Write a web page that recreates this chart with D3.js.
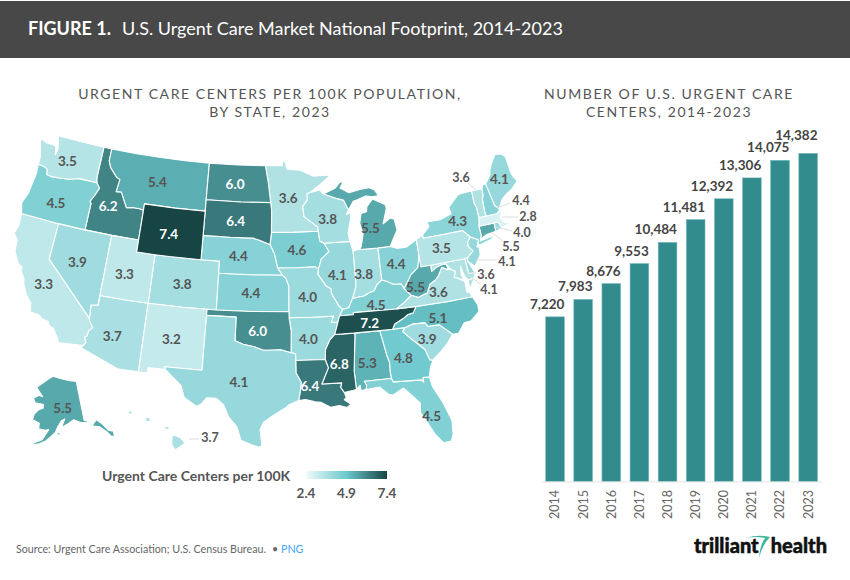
<!DOCTYPE html>
<html>
<head>
<meta charset="utf-8">
<script src="https://cdn.jsdelivr.net/npm/d3@7"></script>
<style>
  html, body { margin: 0; background: #fff; }
  text { font-family: Lato, sans-serif; }
</style>
</head>
<body>
<svg id="chart" width="850" height="580"></svg>
<script>
const years = [2014, 2015, 2016, 2017, 2018, 2019, 2020, 2021, 2022, 2023];
const centers = [7220, 7983, 8676, 9553, 10484, 11481, 12392, 13306, 14075, 14382];

const stateCodes = ['AK','AL','AR','AZ','CA','CO','CT','DE','FL','GA','HI','IA','ID','IL','IN','KS','KY','LA','MA','MD','ME','MI','MN','MO','MS','MT','NC','ND','NE','NH','NJ','NM','NV','NY','OH','OK','OR','PA','RI','SC','SD','TN','TX','UT','VA','VT','WA','WI','WV','WY'];
const stateValues = [5.5,5.3,4.0,3.7,3.3,3.8,5.5,4.1,4.5,4.8,3.7,4.6,6.2,4.1,3.8,4.4,4.5,6.4,2.8,3.6,4.1,5.5,3.6,4.0,6.8,5.4,5.1,6.0,4.4,4.4,4.1,3.2,3.9,4.3,4.4,6.0,4.5,3.5,4.0,3.9,6.4,7.2,4.1,3.3,3.6,3.6,3.5,3.8,5.5,7.4];
const legendTicks = [2.4, 4.9, 7.4];

// state outlines, lon/lat, simplified by hand
const stateRings = {
  WA: [[[-124.73,48.38],[-123.9,48.17],[-123.1,48.15],[-122.7,48.1],[-122.45,47.4],[-122.35,47.95],[-122.5,48.4],[-122.75,49],[-120,49],[-117.03,49],[-117.04,46.42],[-116.92,46],[-118.98,46],[-119.3,45.93],[-120.2,45.73],[-121.2,45.65],[-122.2,45.58],[-122.76,45.65],[-122.9,46.1],[-123.4,46.22],[-124.05,46.27],[-124.1,46.9],[-124.4,47.6]]],
  OR: [[[-124.05,46.27],[-123.4,46.22],[-122.9,46.1],[-122.76,45.65],[-122.2,45.58],[-121.2,45.65],[-120.2,45.73],[-119.3,45.93],[-118.98,46],[-116.92,46],[-116.47,45.6],[-116.85,44.9],[-117.2,44.4],[-117.03,44.2],[-117.03,42],[-120,42],[-124.21,42],[-124.55,42.84],[-124.15,43.8],[-124.05,44.7],[-123.95,45.5]]],
  CA: [[[-124.21,42],[-120,42],[-120,39],[-114.63,35],[-114.57,34.8],[-114.14,34.3],[-114.45,34],[-114.53,33.55],[-114.72,33.4],[-114.5,33],[-114.72,32.72],[-117.12,32.53],[-117.25,32.85],[-117.9,33.6],[-118.4,33.75],[-118.5,34.03],[-119.2,34.15],[-119.6,34.4],[-120.5,34.45],[-120.65,35.15],[-121.3,35.7],[-121.9,36.6],[-122,36.96],[-122.5,37.5],[-122.5,37.8],[-123,38],[-123.7,38.9],[-123.8,39.8],[-124.35,40.3],[-124.1,41]]],
  NV: [[[-120,42],[-117.03,42],[-114.04,42],[-114.04,36.2],[-114.74,36.1],[-114.63,35],[-120,39]]],
  ID: [[[-117.03,49],[-116.05,49],[-116.05,48],[-115.7,47.45],[-114.75,46.75],[-114.35,46.65],[-114.5,45.6],[-113.9,45.65],[-113.45,45.05],[-113,44.45],[-112.3,44.55],[-111.5,44.55],[-111.05,44.48],[-111.05,42],[-114.04,42],[-117.03,42],[-117.03,44.2],[-117.2,44.4],[-116.85,44.9],[-116.47,45.6],[-116.92,46],[-117.04,46.42]]],
  MT: [[[-116.05,49],[-113,49],[-110,49],[-107,49],[-104.05,49],[-104.05,45.94],[-104.05,45],[-107.5,45],[-111.05,45],[-111.05,44.48],[-111.5,44.55],[-112.3,44.55],[-113,44.45],[-113.45,45.05],[-113.9,45.65],[-114.5,45.6],[-114.35,46.65],[-114.75,46.75],[-115.7,47.45],[-116.05,48]]],
  WY: [[[-111.05,45],[-107.5,45],[-104.05,45],[-104.05,43],[-104.05,41],[-107.5,41],[-109.05,41],[-111.05,41],[-111.05,42],[-111.05,44.48]]],
  UT: [[[-114.04,42],[-111.05,42],[-111.05,41],[-109.05,41],[-109.05,37],[-111.5,37],[-114.04,37],[-114.04,36.2]]],
  CO: [[[-109.05,41],[-105.5,41],[-102.05,41],[-102.05,40],[-102.05,37],[-105.5,37],[-109.05,37]]],
  AZ: [[[-114.04,37],[-111.5,37],[-109.05,37],[-109.05,31.33],[-111.07,31.33],[-114.81,32.5],[-114.72,32.72],[-114.5,33],[-114.72,33.4],[-114.53,33.55],[-114.45,34],[-114.14,34.3],[-114.57,34.8],[-114.63,35],[-114.74,36.1],[-114.04,36.2]]],
  NM: [[[-109.05,37],[-105.5,37],[-103,37],[-103,36.5],[-103.04,32],[-106.62,32],[-106.53,31.78],[-108.2,31.78],[-108.2,31.33],[-109.05,31.33]]],
  TX: [[[-106.62,32],[-103.04,32],[-103,36.5],[-100,36.5],[-100,34.56],[-99.2,34.3],[-98.1,34.13],[-97.2,33.85],[-96.6,33.85],[-95.5,33.9],[-94.48,33.64],[-94.04,33.55],[-94.04,33],[-94.04,31.99],[-93.55,31.18],[-93.7,30.3],[-93.85,29.7],[-94.7,29.4],[-95.1,29.1],[-96.2,28.5],[-97.1,27.9],[-97.4,27.3],[-97.2,26],[-97.5,25.85],[-98.2,26.07],[-99.1,26.4],[-99.5,27.5],[-100.3,28.3],[-100.8,29.25],[-101.5,29.77],[-102.4,29.77],[-102.9,29.2],[-103.3,29],[-104.5,29.65],[-104.9,30.6],[-106.53,31.78]]],
  OK: [[[-103,37],[-102.05,37],[-98.5,37],[-94.62,37],[-94.62,36.5],[-94.43,35.4],[-94.48,33.64],[-95.5,33.9],[-96.6,33.85],[-97.2,33.85],[-98.1,34.13],[-99.2,34.3],[-100,34.56],[-100,36.5],[-103,36.5]]],
  KS: [[[-102.05,40],[-98.5,40],[-95.3,40],[-94.9,39.75],[-94.6,39.1],[-94.62,37],[-98.5,37],[-102.05,37]]],
  NE: [[[-104.05,43],[-101,43],[-98.5,43],[-97.85,42.85],[-96.6,42.5],[-96.1,41.7],[-95.9,41],[-95.77,40.58],[-95.3,40],[-98.5,40],[-102.05,40],[-102.05,41],[-104.05,41]]],
  SD: [[[-104.05,45.94],[-100,45.94],[-96.56,45.94],[-96.45,45.3],[-96.45,43.5],[-96.6,42.5],[-97.85,42.85],[-98.5,43],[-101,43],[-104.05,43],[-104.05,45]]],
  ND: [[[-104.05,49],[-100.5,49],[-97.23,49],[-96.85,47.6],[-96.56,45.94],[-100,45.94],[-104.05,45.94]]],
  MN: [[[-97.23,49],[-95.15,49],[-95.15,49.38],[-94.8,49.3],[-94.6,48.72],[-93,48.6],[-91.5,48.07],[-90,48.1],[-89.5,48],[-90.8,47.3],[-92,46.7],[-92.3,46.65],[-92.3,46.1],[-92.85,45.6],[-92.75,44.75],[-91.25,43.85],[-91.22,43.5],[-94,43.5],[-96.45,43.5],[-96.45,45.3],[-96.56,45.94],[-96.85,47.6]]],
  IA: [[[-96.45,43.5],[-94,43.5],[-91.22,43.5],[-91.1,42.7],[-90.65,42.5],[-90.15,41.8],[-91.05,41.2],[-91.4,40.4],[-91.73,40.6],[-93.7,40.58],[-95.77,40.58],[-95.9,41],[-96.1,41.7],[-96.6,42.5]]],
  MO: [[[-95.77,40.58],[-93.7,40.58],[-91.73,40.6],[-91.4,40.4],[-91.5,40],[-90.7,39],[-90.2,38.75],[-90.2,38.4],[-89.5,37.3],[-89.15,37],[-89.5,36.5],[-89.7,36],[-90.37,36],[-90.1,36.5],[-92.3,36.5],[-94.62,36.5],[-94.62,37],[-94.6,39.1],[-94.9,39.75],[-95.3,40]]],
  AR: [[[-94.62,36.5],[-92.3,36.5],[-90.1,36.5],[-90.37,36],[-89.7,36],[-90.1,35],[-90.6,34.6],[-91.1,33.8],[-91.17,33],[-94.04,33],[-94.04,33.55],[-94.48,33.64],[-94.43,35.4]]],
  LA: [[[-94.04,33],[-91.17,33],[-90.9,32.3],[-91.6,31],[-89.73,31],[-89.85,30.65],[-89.55,30.2],[-89.4,29.8],[-89.6,29.6],[-89,29.2],[-89.4,28.95],[-90.1,29.15],[-90.9,29.05],[-91.8,29.5],[-92.3,29.55],[-93.2,29.78],[-93.85,29.7],[-93.7,30.3],[-93.55,31.18],[-94.04,31.99]]],
  MS: [[[-90.1,35],[-88.2,35],[-88.1,34.9],[-88.47,31.9],[-88.4,30.37],[-89.55,30.2],[-89.85,30.65],[-89.73,31],[-91.6,31],[-90.9,32.3],[-91.17,33],[-91.1,33.8],[-90.6,34.6]]],
  AL: [[[-88.2,35],[-85.6,35],[-85.18,32.87],[-85,32.3],[-85.05,31.55],[-85,31],[-87.6,31],[-87.4,30.65],[-87.5,30.3],[-88,30.25],[-88,30.7],[-88.4,30.37],[-88.47,31.9],[-88.1,34.9]]],
  TN: [[[-89.5,36.5],[-88.07,36.5],[-88.07,36.67],[-83.68,36.6],[-81.68,36.59],[-82.05,36.1],[-82.6,36.03],[-83.1,35.77],[-84.05,35.4],[-84.32,34.99],[-85.6,35],[-88.2,35],[-90.1,35],[-89.7,36]]],
  KY: [[[-89.15,37],[-88.5,37.1],[-88.05,37.8],[-87.5,37.9],[-86.8,37.95],[-86.3,38.15],[-85.7,38.3],[-85.4,38.72],[-84.8,39.1],[-84.3,38.95],[-83.65,38.63],[-82.85,38.6],[-82.6,38.17],[-81.97,37.54],[-82.7,37.1],[-83.68,36.6],[-88.07,36.67],[-88.07,36.5],[-89.5,36.5]]],
  IL: [[[-90.65,42.5],[-87.8,42.5],[-87.53,41.7],[-87.53,39.35],[-87.6,38.7],[-88.05,37.8],[-88.5,37.1],[-89.15,37],[-89.5,37.3],[-90.2,38.4],[-90.2,38.75],[-90.7,39],[-91.5,40],[-91.4,40.4],[-91.05,41.2],[-90.15,41.8]]],
  IN: [[[-87.53,41.7],[-87.2,41.76],[-86.8,41.76],[-84.8,41.72],[-84.8,39.1],[-85.4,38.72],[-85.7,38.3],[-86.3,38.15],[-86.8,37.95],[-87.5,37.9],[-88.05,37.8],[-87.6,38.7],[-87.53,39.35]]],
  OH: [[[-84.8,41.72],[-83.45,41.73],[-82.7,41.5],[-81.7,41.5],[-80.52,41.98],[-80.52,40.64],[-80.85,39.7],[-81.7,39.2],[-82.2,38.6],[-82.6,38.17],[-82.85,38.6],[-83.65,38.63],[-84.3,38.95],[-84.8,39.1]]],
  MI: [
    [[-86.8,41.76],[-84.8,41.72],[-83.45,41.73],[-83.1,42.2],[-82.45,43],[-82.6,43.9],[-83,44.05],[-83.9,43.65],[-83.3,44.9],[-83.4,45.2],[-84.75,45.78],[-85.5,45.2],[-85.6,44.8],[-86.25,44.7],[-86.5,43.9],[-86.25,43],[-86.6,42]],
    [[-90.4,46.55],[-89,46.95],[-88.4,47.4],[-87.9,47.47],[-88.4,46.95],[-87.4,46.5],[-86.1,46.67],[-85,46.75],[-84.4,46.5],[-84,46],[-84.7,45.95],[-85.5,46.08],[-86.5,45.85],[-87,45.75],[-87.6,45.1],[-87.8,45.35],[-88.1,45.9],[-89.1,46.15]]
  ],
  WI: [[[-92,46.7],[-90.8,46.9],[-90.4,46.55],[-89.1,46.15],[-88.1,45.9],[-87.8,45.35],[-87.6,45.1],[-87.95,44.7],[-87.4,44.9],[-87.5,44.3],[-87.9,43.2],[-87.8,42.5],[-90.65,42.5],[-91.1,42.7],[-91.22,43.5],[-91.25,43.85],[-92.75,44.75],[-92.85,45.6],[-92.3,46.1],[-92.3,46.65]]],
  PA: [[[-80.52,41.98],[-79.76,42.27],[-79.76,42],[-77.5,42],[-75.35,42],[-74.7,41.36],[-75.1,41],[-75.15,40.65],[-74.75,40.2],[-75.4,39.8],[-75.79,39.72],[-79.48,39.72],[-80.52,39.72],[-80.52,40.64]]],
  NY: [[[-79.76,42.27],[-78.9,42.85],[-79.05,43.27],[-77.5,43.25],[-76.2,43.55],[-76.3,44.1],[-75,44.95],[-74.7,45],[-73.35,45],[-73.4,44],[-73.25,43.6],[-73.27,42.75],[-73.5,42.05],[-73.5,41.3],[-73.65,41],[-73.75,40.85],[-72.6,40.98],[-71.9,41.05],[-72.6,40.78],[-73.9,40.55],[-74.05,40.7],[-73.9,41],[-74.7,41.36],[-75.35,42],[-77.5,42],[-79.76,42]]],
  NJ: [[[-74.7,41.36],[-73.9,41],[-74.05,40.7],[-74.25,40.45],[-74,40.4],[-74.1,39.75],[-74.9,38.95],[-75.55,39.5],[-75.4,39.8],[-74.75,40.2],[-75.15,40.65],[-75.1,41]]],
  DE: [[[-75.79,39.72],[-75.4,39.8],[-75.55,39.5],[-75.05,38.45],[-75.7,38.45]]],
  MD: [[[-79.48,39.72],[-75.79,39.72],[-75.7,38.45],[-75.05,38.45],[-75.25,38.03],[-75.9,37.95],[-76.2,38.35],[-76.4,39.2],[-76.5,38.5],[-76.35,38.05],[-77,38.3],[-77.3,38.4],[-77.05,38.85],[-77.5,39.1],[-77.85,39.6],[-78.4,39.6],[-79,39.45],[-79.48,39.2]]],
  VA: [
    [[-83.68,36.6],[-82.7,37.1],[-81.97,37.54],[-81.3,37.3],[-80.3,37.55],[-79.9,38.2],[-79.3,38.45],[-78.87,38.77],[-78.35,39.4],[-77.85,39.13],[-77.5,39.1],[-77.05,38.85],[-77.3,38.4],[-77,38.3],[-76.3,37.9],[-76.3,37],[-76,36.92],[-75.87,36.55],[-78.5,36.55],[-81.68,36.59]],
    [[-75.25,38.03],[-75.9,37.95],[-75.95,37.15]]
  ],
  WV: [[[-80.52,40.64],[-80.52,39.72],[-79.48,39.72],[-79.48,39.2],[-79,39.45],[-78.4,39.6],[-77.85,39.6],[-77.75,39.3],[-77.85,39.13],[-78.35,39.4],[-78.87,38.77],[-79.3,38.45],[-79.9,38.2],[-80.3,37.55],[-81.3,37.3],[-81.97,37.54],[-82.6,38.17],[-82.2,38.6],[-81.7,39.2],[-80.85,39.7]]],
  NC: [[[-84.32,34.99],[-83.1,35],[-82.3,35.2],[-81.05,35.15],[-80.8,34.82],[-79.67,34.8],[-78.55,33.86],[-77.95,33.85],[-77.2,34.6],[-76.5,34.65],[-75.55,35.25],[-75.5,35.8],[-75.87,36.55],[-78.5,36.55],[-81.68,36.59],[-82.05,36.1],[-82.6,36.03],[-83.1,35.77],[-84.05,35.4]]],
  SC: [[[-83.1,35],[-82.3,35.2],[-81.05,35.15],[-80.8,34.82],[-79.67,34.8],[-78.55,33.86],[-79.2,33.2],[-80,32.6],[-80.85,32.05],[-81.15,32.1],[-81.45,33],[-82,33.5],[-82.6,34],[-83.35,34.7]]],
  GA: [[[-85.6,35],[-84.32,34.99],[-83.1,35],[-83.35,34.7],[-82.6,34],[-82,33.5],[-81.45,33],[-81.15,32.1],[-80.85,32.05],[-81.2,31.5],[-81.45,30.72],[-82.05,30.75],[-82.05,30.37],[-82.2,30.57],[-84.86,30.7],[-85,31],[-85.05,31.55],[-85,32.3],[-85.18,32.87]]],
  FL: [[[-87.6,31],[-85,31],[-84.86,30.7],[-82.2,30.57],[-82.05,30.37],[-82.05,30.75],[-81.45,30.72],[-81.3,29.9],[-80.6,28.5],[-80.05,26.9],[-80.15,25.75],[-80.4,25.2],[-81.1,25.15],[-81.75,26],[-82.2,26.9],[-82.75,27.9],[-82.65,28.7],[-83.4,29.5],[-84,30.1],[-85,29.65],[-85.4,29.7],[-86.2,30.4],[-87.5,30.3],[-87.4,30.65]]],
  VT: [[[-73.35,45],[-72.15,45],[-72.2,44.5],[-72.4,44.1],[-72.5,43],[-72.46,42.73],[-73.27,42.75],[-73.25,43.6],[-73.4,44]]],
  NH: [[[-72.15,45],[-71.9,45.3],[-71.6,45.3],[-71.25,43.4],[-70.85,43.07],[-70.9,42.87],[-71.3,42.7],[-72.46,42.73],[-72.5,43],[-72.4,44.1],[-72.2,44.5]]],
  ME: [[[-71.6,45.3],[-71,45.8],[-70.8,46],[-70.7,46.3],[-70.4,46.7],[-69.6,47.46],[-68.9,47.35],[-68.5,47.05],[-68.45,45.7],[-68.3,45.25],[-68,44.85],[-68.9,44.3],[-69.5,44.1],[-70.2,43.75],[-70.85,43.07],[-71.25,43.4]]],
  MA: [[[-73.5,42.05],[-73.27,42.75],[-72.46,42.73],[-71.3,42.7],[-70.9,42.87],[-70.7,42.65],[-71,42.3],[-70.6,41.8],[-70.3,41.8],[-70.45,42.07],[-70.2,41.7],[-70.75,41.55],[-71.12,41.5],[-71.38,42.02],[-71.8,42.02]]],
  CT: [[[-73.5,42.05],[-71.8,42.02],[-71.85,41.32],[-72.9,41.25],[-73.65,41],[-73.5,41.3]]],
  RI: [[[-71.8,42.02],[-71.38,42.02],[-71.12,41.5],[-71.5,41.37],[-71.85,41.32]]],
  AK: [
    [[-141,69.65],[-141,60.3],[-139.5,59.95],[-137.5,58.9],[-135.5,59.8],[-133.5,58.5],[-131.8,56.6],[-130,56],[-130.3,54.8],[-131.5,55],[-132.5,56.2],[-135,58],[-137.5,58.5],[-139.5,59.6],[-143,60],[-146,60.8],[-148.5,60],[-151.8,59.2],[-150,61.2],[-151.7,60.8],[-153.5,59.3],[-154.5,58.1],[-156.5,57],[-158.5,56],[-161,55.2],[-164.5,54.6],[-163,55.3],[-160,56.2],[-157.5,58.7],[-159,58.5],[-162,58.7],[-162,60],[-165.4,60.6],[-165,62],[-163,63.2],[-161,63.6],[-161,64.5],[-165.5,64.6],[-167,65.6],[-164,66.5],[-162,66.3],[-163.7,67.1],[-166.3,68.3],[-163,69.5],[-160,70.5],[-156.5,71.35],[-152,70.85],[-146,70.2]],
    [[-154.6,57.5],[-152.5,57.5],[-152.3,58],[-153.4,58]]
  ],
  HI: [
    [[-155.9,20.25],[-155.2,19.95],[-154.8,19.5],[-155.65,18.95],[-155.95,19.4]],
    [[-156.7,20.95],[-156,20.8],[-156.4,20.6]],
    [[-158.25,21.55],[-157.95,21.7],[-157.7,21.3],[-158.1,21.3]],
    [[-159.75,22.1],[-159.4,22.2],[-159.3,21.95],[-159.6,21.9]]
  ]
};

// label layout: nudge off the centroid, or a leader line out to the side for small states
const labelNudge = {
  WA:[-4,2], OR:[-4,3.5], CA:[-5,2], NV:[-4,0], ID:[-4,0], MT:[-3,1], WY:[-3,2], UT:[-3,3], CO:[-2.5,2],
  AZ:[-5,4], NM:[-2,1], ND:[-3,1], SD:[-3,1], NE:[-2,1], KS:[-2,0.5], OK:[-3,3], TX:[-2,3], MN:[-2.5,0.5],
  IA:[-1,1], MO:[-2,2.5], AR:[-3,2], LA:[-9,2.5], WI:[-0.5,2.3], IL:[-2,2.7], IN:[-3,2.7], MI:[1,10], OH:[-2.5,1],
  KY:[-3,6.4], TN:[-2,2], MS:[-2,3], AL:[-3,4], GA:[-2,2], FL:[9.5,13], SC:[-2,1], NC:[-5,3], VA:[-3,1.5],
  WV:[-7,7.6], PA:[-2,0], NY:[-1,1], ME:[-0.5,0], AK:[3,1.4]
};
const callouts = {
  VT: {text: [461, 178], line: [[468, 183], [476, 190]]},
  NH: {text: [521, 201], line: [[497, 208], [510, 203]]},
  MA: {text: [528, 217], line: [[502, 217], [518, 217]]},
  RI: {text: [522, 233], line: [[496, 227], [512, 231]]},
  CT: {text: [511, 246.5], line: [[491, 232], [504, 242]]},
  NJ: {text: [507, 261.5], line: [[478, 260], [497, 260]]},
  MD: {text: [486, 274.5], line: [[467, 273], [476, 273]]},
  DE: {text: [489, 290], line: [[470, 276], [480, 284]]},
  HI: {text: [210, 438], line: [[189, 439], [199, 439]]}
};

const ink = '#555';
const svg = d3.select('#chart');

svg.append('rect').attr('x', 0).attr('y', 1).attr('width', 850).attr('height', 57).attr('fill', '#484848');
const head = svg.append('text').attr('x', 28).attr('y', 35).attr('fill', '#fff').style('font-size', '18px');
head.append('tspan').style('font-weight', 700).text('FIGURE 1.');
head.append('tspan').attr('x', 122).text('U.S. Urgent Care Market National Footprint, 2014-2023');

function heading (lines, cx) {
  svg.selectAll(null).data(lines).join('text')
    .attr('x', cx).attr('y', (d, i) => 99 + i * 18)
    .attr('text-anchor', 'middle').attr('fill', ink)
    .style('font-size', '14px').style('letter-spacing', '1.58px')
    .text(d => d);
}
heading(['URGENT CARE CENTERS PER 100K POPULATION,', 'BY STATE, 2023'], 270);
heading(['NUMBER OF U.S. URGENT CARE', 'CENTERS, 2014-2023'], 669);

// map: the reference map is a little wider than plain Albers, so stretch after projecting
const color = d3.scaleLinear().domain(legendTicks).range(['#eefafa', '#6cc8cd', '#174544']);
const projection = d3.geoAlbersUsa().scale(690).translate([263, 292]);
const stretchX = d3.scaleLinear().domain([21, 433]).range([21, 444.5]);
const stretchY = d3.scaleLinear().domain([149, 447]).range([147, 447]);
const stretch = d3.geoTransform({
  point (px, py) { this.stream.point(stretchX(px), stretchY(py)); }
});
const geoPath = d3.geoPath({stream: s => projection.stream(stretch.stream(s))});

const states = stateCodes.map((code, i) => ({
  code,
  value: stateValues[i],
  geo: {
    type: 'MultiPolygon',
    coordinates: stateRings[code].map(ring => {
      const closed = [...ring, ring[0]];
      const poly = {type: 'Polygon', coordinates: [closed]};
      return [d3.geoArea(poly) > 2 * Math.PI ? closed.reverse() : closed];
    })
  }
}));

svg.append('g').selectAll('path').data(states).join('path')
  .attr('d', d => geoPath(d.geo))
  .attr('fill', d => color(d.value))
  .attr('stroke', '#fff').attr('stroke-width', 1.1).attr('stroke-linejoin', 'round');

const leaders = Object.values(callouts);
svg.append('g').selectAll('line').data(leaders).join('line')
  .attr('x1', d => d.line[0][0]).attr('y1', d => d.line[0][1])
  .attr('x2', d => d.line[1][0]).attr('y2', d => d.line[1][1])
  .attr('stroke', '#ddd').attr('stroke-width', 1);

svg.append('g').selectAll('text').data(states).join('text')
  .attr('transform', d => {
    if (callouts[d.code]) return `translate(${callouts[d.code].text})`;
    const c = geoPath.centroid(d.geo);
    const n = labelNudge[d.code] || [0, 0];
    return `translate(${c[0] + n[0]},${c[1] + n[1]})`;
  })
  .attr('text-anchor', 'middle').attr('dy', '0.35em')
  .attr('fill', d => d.value >= 6 ? '#fff' : ink)
  .style('font-size', d => callouts[d.code] ? '12.5px' : '13.5px').style('font-weight', 700)
  .text(d => d3.format('.1f')(d.value));

// legend
const grad = svg.append('defs').append('linearGradient').attr('id', 'legendRamp');
grad.selectAll('stop').data(d3.range(0, 1.01, 0.1)).join('stop')
  .attr('offset', d => d)
  .attr('stop-color', d => color(2.4 + d * 5));
svg.append('text').attr('x', 102).attr('y', 481).attr('fill', ink)
  .style('font-size', '14px').style('font-weight', 700).text('Urgent Care Centers per 100K');
svg.append('rect').attr('x', 306).attr('y', 471).attr('width', 81).attr('height', 8).attr('fill', 'url(#legendRamp)');
const legendX = d3.scaleLinear().domain([2.4, 7.4]).range([306, 387]);
svg.append('g').selectAll('text').data(legendTicks).join('text')
  .attr('x', d => legendX(d)).attr('y', 498).attr('text-anchor', 'middle').attr('fill', ink)
  .style('font-size', '13.5px').style('font-weight', 700).text(d => d.toFixed(1));

// bars
const x = d3.scaleBand().domain(years).range([545.7, 817.5]).paddingInner(0.335).paddingOuter(0);
const y = d3.scaleLinear().domain([0, d3.max(centers)]).range([481.7, 153.3]);
const bars = years.map((year, i) => ({year, n: centers[i]}));

svg.append('g').selectAll('rect').data(bars).join('rect')
  .attr('x', d => x(d.year)).attr('y', d => y(d.n))
  .attr('width', x.bandwidth()).attr('height', d => y(0) - y(d.n))
  .attr('fill', '#328c8e').attr('stroke', '#7dbcbd').attr('stroke-width', 0.6);

// labels step upward when the next bar is nearly the same height
let lastY = Infinity;
svg.append('g').selectAll('text').data(bars).join('text')
  .attr('x', d => x(d.year) + x.bandwidth())
  .attr('y', d => (lastY = Math.min(y(d.n) - 8, lastY - 12)))
  .attr('text-anchor', 'end').attr('fill', '#444')
  .style('font-size', '13.5px').style('font-weight', 700)
  .text(d => d3.format(',')(d.n));

const axis = svg.append('g').attr('transform', 'translate(0,482)')
  .call(d3.axisBottom(x).tickSize(0).tickFormat(d3.format('d')));
axis.select('.domain').attr('d', 'M541,0H822').attr('stroke', '#e5e5e5').attr('stroke-width', 1.2);
axis.selectAll('text')
  .attr('transform', 'rotate(-90)')
  .attr('x', -8).attr('y', 0).attr('dy', '0.35em')
  .attr('text-anchor', 'end').attr('fill', '#666')
  .style('font-family', 'Lato, sans-serif').style('font-size', '12.5px');

// footer
const source = svg.append('text').attr('x', 16).attr('y', 553).attr('fill', '#666').style('font-size', '10.7px');
source.append('tspan').text('Source: Urgent Care Association; U.S. Census Bureau.');
source.append('tspan').attr('x', 272).text('•');
source.append('tspan').attr('x', 281).attr('fill', '#3ea6f5').text('PNG');

svg.append('path').attr('d', 'M746,538 Q758,534 770,537 Q762,545 759,558 Q760,545 765,538 Q756,536 746,538Z').attr('fill', '#3fb89a');
svg.append('text').attr('x', 694).attr('y', 553).attr('fill', '#111')
  .attr('stroke', '#111').attr('stroke-width', 0.5)
  .style('font-size', '20px').style('font-weight', 900).text('trilliant');
svg.append('text').attr('x', 827).attr('y', 553).attr('text-anchor', 'end').attr('fill', '#111')
  .attr('stroke', '#111').attr('stroke-width', 0.5)
  .style('font-size', '20px').style('font-weight', 900).text('health');
</script>
</body>
</html>
